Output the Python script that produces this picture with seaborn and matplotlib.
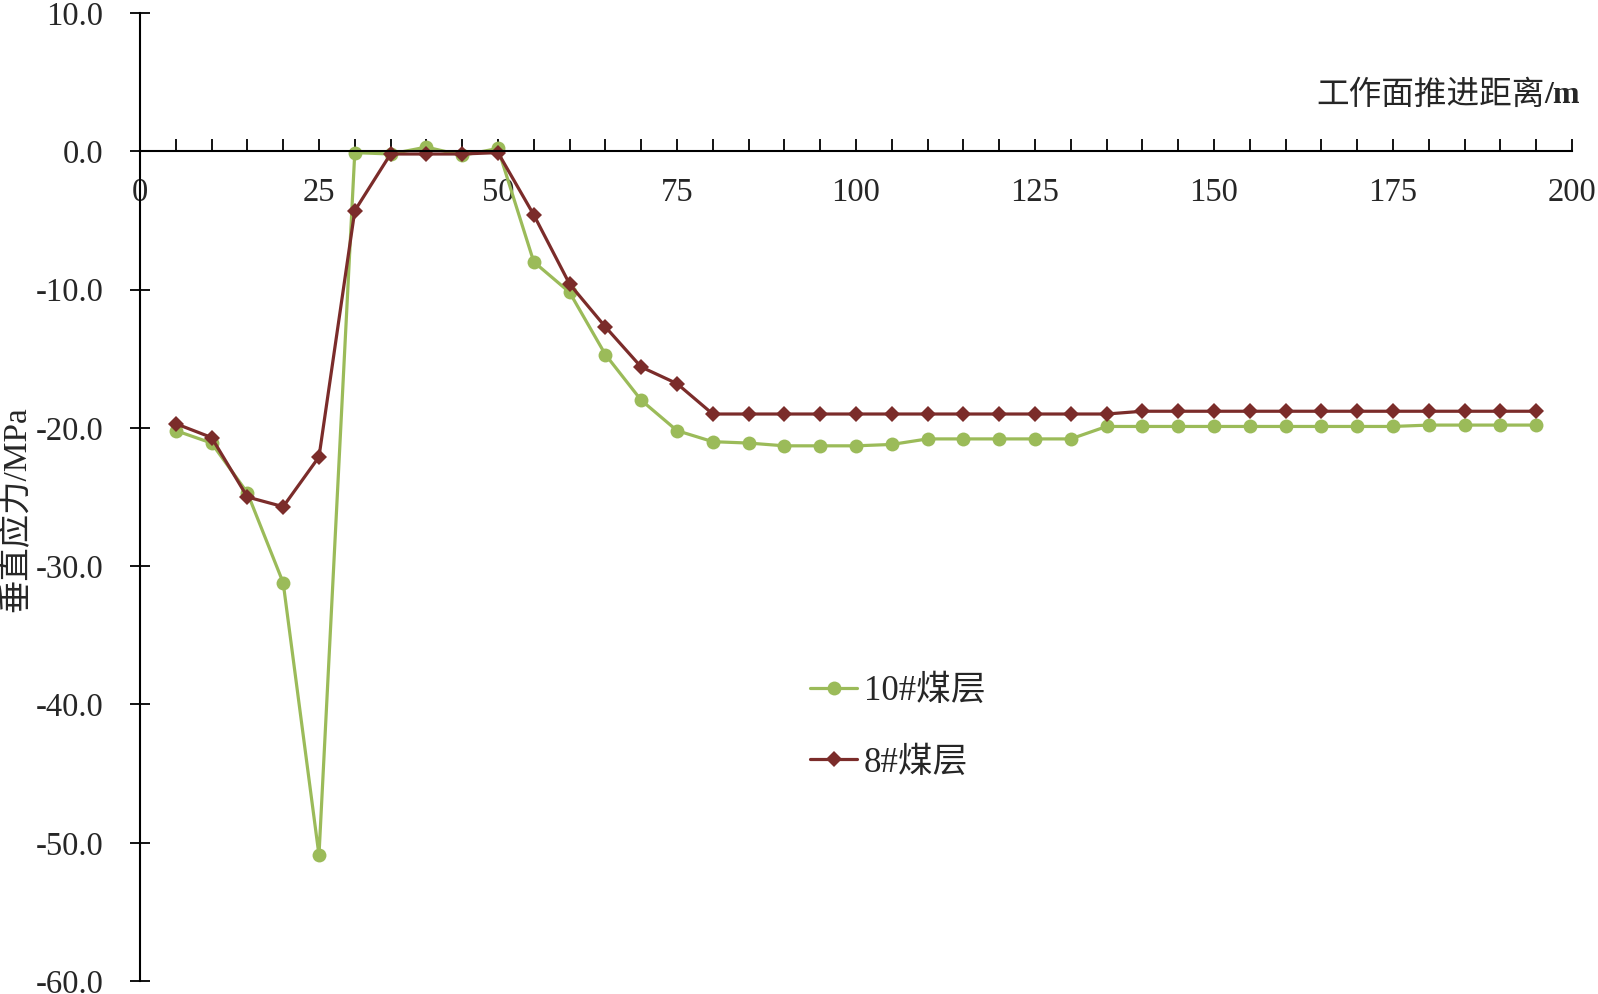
import matplotlib
matplotlib.use("Agg")
import matplotlib.pyplot as plt
import seaborn as sns
import pandas as pd
from matplotlib.ticker import MultipleLocator, FormatStrFormatter

# advance distance of the working face (m)
distance = list(range(5, 200, 5))

# vertical stress (MPa)
seam_10 = [-20.2, -21.1, -24.7, -31.2, -50.9, -0.1, -0.2, 0.3, -0.3, 0.2,
           -8.0, -10.2, -14.7, -18.0, -20.2, -21.0, -21.1, -21.3, -21.3, -21.3,
           -21.2, -20.8, -20.8, -20.8, -20.8, -20.8, -19.9, -19.9, -19.9, -19.9,
           -19.9, -19.9, -19.9, -19.9, -19.9, -19.8, -19.8, -19.8, -19.8]
seam_8 = [-19.7, -20.7, -25.0, -25.7, -22.1, -4.3, -0.2, -0.2, -0.2, -0.1,
          -4.6, -9.6, -12.7, -15.6, -16.8, -19.0, -19.0, -19.0, -19.0, -19.0,
          -19.0, -19.0, -19.0, -19.0, -19.0, -19.0, -19.0, -18.8, -18.8, -18.8,
          -18.8, -18.8, -18.8, -18.8, -18.8, -18.8, -18.8, -18.8, -18.8]

series_names = ["10#煤层", "8#煤层"]
colors = {"10#煤层": "#9BBB59", "8#煤层": "#7B2C2A"}

df = pd.concat([
    pd.DataFrame({"distance": distance, "stress": seam_10, "seam": series_names[0]}),
    pd.DataFrame({"distance": distance, "stress": seam_8, "seam": series_names[1]}),
])

sns.set_style("white")
plt.rcParams["font.family"] = ["Liberation Serif", "Noto Sans CJK SC"]
plt.rcParams["axes.unicode_minus"] = False

fig = plt.figure(figsize=(15.98, 9.94), dpi=100)
ax = fig.add_axes([0.0876, 0.013, 0.8961, 0.974])

sns.lineplot(data=df, x="distance", y="stress", hue="seam", style="seam",
             hue_order=series_names, style_order=series_names,
             palette=colors, markers={"10#煤层": "o", "8#煤层": "D"},
             dashes=False, linewidth=2.3, markeredgewidth=0, ax=ax)
# marker sizes per series
for line in ax.lines:
    if line.get_marker() == "o":
        line.set_markersize(10)
    else:
        line.set_markersize(8)

ax.set_xlim(0, 200)
ax.set_ylim(-60, 10)

# axes cross at zero
ax.spines["top"].set_visible(False)
ax.spines["right"].set_visible(False)
ax.spines["bottom"].set_position(("data", 0))
ax.spines["left"].set_position(("data", 0))
for s in ["bottom", "left"]:
    ax.spines[s].set_color("black")
    ax.spines[s].set_linewidth(1.5)

ax.xaxis.set_major_locator(MultipleLocator(25))
ax.xaxis.set_minor_locator(MultipleLocator(5))
ax.yaxis.set_major_locator(MultipleLocator(10))
ax.yaxis.set_major_formatter(FormatStrFormatter("%.1f"))
ax.tick_params(axis="x", which="both", direction="in", length=9, width=1.3,
               color="black", pad=19, labelsize=23.5, bottom=True)
ax.tick_params(axis="y", which="major", direction="inout", length=15, width=1.3,
               color="black", pad=19, labelsize=23.5, left=True)

ax.set_xlabel("")
ax.set_ylabel("垂直应力/MPa", fontsize=24, labelpad=0)
ax.yaxis.set_label_coords(-0.0754, 0.487)

# x title: chinese part regular, unit bold
unit = ax.text(1.0056, 0.915, "/m", transform=ax.transAxes, ha="right",
               va="center", fontsize=23, fontweight="bold")
ax.annotate("工作面推进距离", xy=(0, 0.5), xycoords=unit, ha="right",
            va="center", fontsize=23.5)

ax.legend(title=None, frameon=False, loc="center left",
          bbox_to_anchor=(0.468, 0.262), borderaxespad=0, borderpad=0,
          fontsize=25, handlelength=1.35, handletextpad=0.2, labelspacing=1.1)

plt.savefig("out.png", dpi=100)
